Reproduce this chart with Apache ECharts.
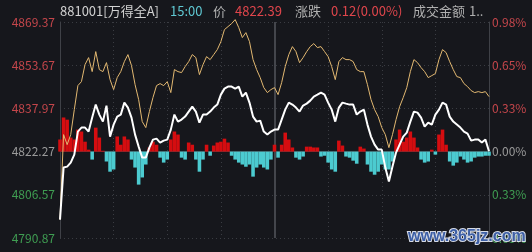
<!DOCTYPE html>
<html>
<head>
<meta charset="utf-8">
<script src="https://cdn.jsdelivr.net/npm/echarts@6/dist/echarts.min.js"></script>
<style>
html,body{margin:0;padding:0;background:#16171c;}
#c{width:532px;height:252px;}
</style>
</head>
<body>
<div id="c"></div>
<script>
// ---- data ----
const prevClose = 4822.27;
const leftTicks = ['4790.87', '4806.57', '4822.27', '4837.97', '4853.67', '4869.37'];
const rightTicks = ['0.65%', '0.33%', '0.00%', '0.33%', '0.65%', '0.98%'];
const priceMin = 4790.87, priceMax = 4869.37;

// 2-minute samples 9:30..11:30, 13:02..15:00
const times = (function () {
  const out = [];
  const f = m => Math.floor(m / 60) + ':' + String(m % 60).padStart(2, '0');
  for (let m = 570; m <= 690; m += 2) out.push(f(m));
  for (let m = 782; m <= 900; m += 2) out.push(f(m));
  return out;
})();

// index price (white)
const price = [
  4797.56, 4816.46, 4816.82, 4818.27, 4821.18, 4829.54, 4830.99, 4830.99, 4829.54, 4834.63,
  4839.35, 4835.72, 4833.17, 4838.99, 4827.72, 4832.08, 4834.99, 4835.72, 4840.08, 4838.26,
  4834.63, 4828.45, 4824.09, 4820.09, 4820.09, 4823.72, 4826.63, 4826.99, 4825.54, 4826.27,
  4826.63, 4830.26, 4835.72, 4833.17, 4833.90, 4834.99, 4836.81, 4838.62, 4836.81, 4832.81,
  4835.72, 4835.72, 4836.81, 4838.26, 4839.35, 4842.98, 4845.16, 4845.89, 4845.89, 4845.16,
  4845.89, 4842.26, 4843.71, 4840.08, 4834.99, 4833.17, 4833.54, 4829.54, 4828.45, 4829.54,
  4830.26, 4830.26, 4833.90, 4837.53, 4840.08, 4839.35, 4838.26, 4836.81, 4838.99, 4839.71,
  4840.80, 4842.26, 4842.98, 4843.71, 4842.98, 4840.08, 4837.53, 4833.17, 4838.26, 4840.08,
  4839.71, 4839.35, 4839.35, 4835.72, 4836.81, 4837.53, 4832.08, 4827.72, 4824.81, 4823.00,
  4823.00, 4816.46, 4811.37, 4816.82, 4821.91, 4824.81, 4827.72, 4829.17, 4833.17, 4836.81,
  4836.44, 4834.63, 4831.36, 4832.81, 4832.08, 4835.72, 4837.53, 4840.08, 4839.35, 4834.99,
  4833.17, 4832.08, 4830.99, 4829.54, 4828.81, 4826.27, 4826.63, 4826.63, 4825.54, 4826.63,
  4822.39
];

// leading index (yellow)
const leader = [
  4797.56, 4828.45, 4824.81, 4828.45, 4837.53, 4846.25, 4847.71, 4853.89, 4856.43, 4851.34,
  4858.61, 4852.07, 4851.34, 4854.61, 4848.43, 4844.80, 4849.16, 4851.34, 4854.98, 4857.52,
  4853.52, 4846.62, 4841.17, 4833.17, 4830.99, 4836.81, 4841.89, 4846.25, 4846.98, 4846.25,
  4847.71, 4843.71, 4852.07, 4851.34, 4850.98, 4853.16, 4854.98, 4857.52, 4856.43, 4850.25,
  4853.89, 4856.79, 4855.70, 4857.52, 4859.34, 4862.24, 4866.60, 4867.70, 4868.79, 4870.24,
  4867.33, 4863.70, 4865.51, 4862.24, 4855.70, 4852.07, 4849.16, 4845.53, 4843.71, 4844.80,
  4845.53, 4842.98, 4847.34, 4853.16, 4857.52, 4860.43, 4858.61, 4854.61, 4856.43, 4858.61,
  4860.43, 4861.52, 4860.06, 4860.43, 4858.61, 4856.79, 4853.16, 4848.43, 4854.98, 4856.43,
  4855.70, 4855.70, 4854.98, 4852.07, 4851.34, 4851.34, 4846.62, 4841.17, 4837.53, 4834.99,
  4830.99, 4828.45, 4823.72, 4828.45, 4833.90, 4838.62, 4841.89, 4845.53, 4851.34, 4855.70,
  4854.61, 4852.80, 4851.34, 4849.16, 4849.89, 4850.62, 4855.70, 4859.34, 4858.25, 4854.98,
  4852.07, 4849.53, 4849.16, 4846.98, 4845.89, 4844.44, 4843.71, 4844.07, 4843.71, 4844.07,
  4842.26
];

// red/cyan strength bars (points above/below zero line)
const strength = [
  4.4, 12.4, 11.6, 5.1, 4.4, 8.0, 7.3, 3.6, 0.7, -2.9,
  8.7, 5.1, 0.3, -3.6, -7.3, -6.5, 5.5, 2.5, 5.5, 4.4,
  -2.9, -5.8, -12.0, -9.4, -4.7, 1.5, 3.6, 2.5, -2.2, -4.0,
  -2.9, 4.4, 7.3, 6.2, -2.2, -2.9, 3.3, 2.5, -2.9, -7.3,
  -2.9, 2.5, -1.5, 2.2, 3.3, 3.6, 4.7, 3.3, -1.5, -2.9,
  -4.0, -4.7, -5.5, -4.7, -9.1, -5.8, -4.7, -5.8, -6.5, -2.9,
  2.5, -2.2, 2.5, 6.9, 4.4, 1.5, -2.2, -2.9, -1.8, 1.8,
  1.8, 1.5, 1.5, -1.8, -1.5, -4.0, -6.5, -7.3, 4.0, 2.2,
  -1.8, -2.2, -3.3, -4.4, 1.8, 1.1, -4.7, -7.3, -8.4, -7.3,
  -4.7, -6.5, -6.5, -3.6, 4.4, 8.0, 3.6, 5.1, 7.3, 5.1,
  1.5, -2.9, -4.0, -3.6, 0.7, -1.1, 6.2, 8.0, 2.5, -3.6,
  -5.1, -4.0, -1.8, -2.9, -4.0, -3.6, -2.2, -1.8, -1.8, -1.5,
  -1.5
];

const headerCode = '881001[万得全A]';
const headerTime = '15:00';
const headerPriceLabel = '价';
const headerPrice = '4822.39';
const headerChgLabel = '涨跌';
const headerChg = '0.12(0.00%)';
const headerAmtLabel = '成交金额';
const headerAmt = '1..';
const watermark = 'www.365jz.com';

// ---- chart ----
const RED = '#c4464b', GREEN = '#3f9d52', GRAY = '#9a9a9a';
const GRIDC = '#3a3c42', BORDER = '#3f4147';
const chart = echarts.init(document.getElementById('c'), null, { renderer: 'canvas' });
const font = '"Noto Sans CJK SC", "Liberation Sans", sans-serif';

function tickColor(idx) { return idx > 2 ? RED : (idx === 2 ? GRAY : GREEN); }

const hdr = (x, text, fill) => ({
  type: 'text', x: x, y: 11, z: 10,
  style: { text: text, fill: fill, font: '13px ' + font, verticalAlign: 'middle' }
});

chart.setOption({
  backgroundColor: '#16171c',
  animation: false,
  grid: { left: 60, right: 43, top: 22, bottom: 14, containLabel: false },
  xAxis: [
    {
      type: 'category', data: times, boundaryGap: false, position: 'bottom',
      axisLine: { show: false }, axisTick: { show: false }, axisLabel: { show: false },
      splitLine: {
        show: true,
        interval: (i) => i % 15 === 0 && i % 60 !== 0,
        lineStyle: { color: GRIDC, type: [1, 3], width: 1 }
      }
    },
    {
      type: 'category', data: times, boundaryGap: false, position: 'top',
      axisLine: { show: true, lineStyle: { color: BORDER, width: 1 } },
      axisTick: { show: false }, axisLabel: { show: false },
      splitLine: {
        show: true,
        interval: (i) => i === 60,
        lineStyle: { color: '#44464c', width: 2 }
      }
    }
  ],
  yAxis: [
    {
      type: 'value', position: 'left', min: -2, max: 3, interval: 1,
      axisLine: { show: true, lineStyle: { color: BORDER } },
      axisTick: { show: false },
      axisLabel: {
        margin: 5, fontSize: 12, fontFamily: font,
        formatter: (v) => leftTicks[Math.round(v) + 2],
        color: (v) => tickColor(Math.round(v) + 2)
      },
      splitLine: { show: true, lineStyle: { color: GRIDC, type: [1, 3] } }
    },
    {
      type: 'value', position: 'right', min: -2, max: 3, interval: 1,
      axisLine: { show: true, lineStyle: { color: BORDER } },
      axisTick: { show: false },
      axisLabel: {
        margin: 3, fontSize: 12, fontFamily: font,
        formatter: (v) => rightTicks[Math.round(v) + 2],
        color: (v) => tickColor(Math.round(v) + 2)
      },
      splitLine: { show: false }
    },
    { type: 'value', show: false, min: priceMin, max: priceMax, splitLine: { show: false } },
    { type: 'value', show: false, min: priceMin - prevClose, max: priceMax - prevClose, splitLine: { show: false } }
  ],
  series: [
    {
      type: 'bar', xAxisIndex: 0, yAxisIndex: 3, data: strength,
      barWidth: '100%', barCategoryGap: '0%', z: 1,
      itemStyle: { color: (p) => p.value >= 0 ? '#d50d10' : '#4ccbd0' }
    },
    {
      type: 'line', xAxisIndex: 0, yAxisIndex: 2, data: leader, showSymbol: false, symbol: 'none',
      clip: false, z: 3, lineStyle: { color: '#e2b871', width: 1 }
    },
    {
      type: 'line', xAxisIndex: 0, yAxisIndex: 2, data: price, showSymbol: false, symbol: 'none',
      clip: false, z: 4, lineStyle: { color: '#ffffff', width: 2 }
    }
  ],
  graphic: [
    hdr(60, headerCode, '#d2d2d2'),
    hdr(170, headerTime, '#5fc8d2'),
    hdr(213, headerPriceLabel, '#b0b0b0'),
    hdr(235, headerPrice, '#e0464c'),
    hdr(295, headerChgLabel, '#b0b0b0'),
    hdr(331, headerChg, '#e0464c'),
    hdr(413, headerAmtLabel, '#b0b0b0'),
    hdr(469, headerAmt, '#b0b0b0'),
    {
      type: 'text', x: 408, y: 237, z: 20,
      style: {
        text: watermark, fill: '#3d5fa6', stroke: '#d6dbe6', lineWidth: 2,
        font: 'bold 16px "Liberation Sans", sans-serif', verticalAlign: 'middle'
      }
    }
  ]
});
</script>
</body>
</html>
